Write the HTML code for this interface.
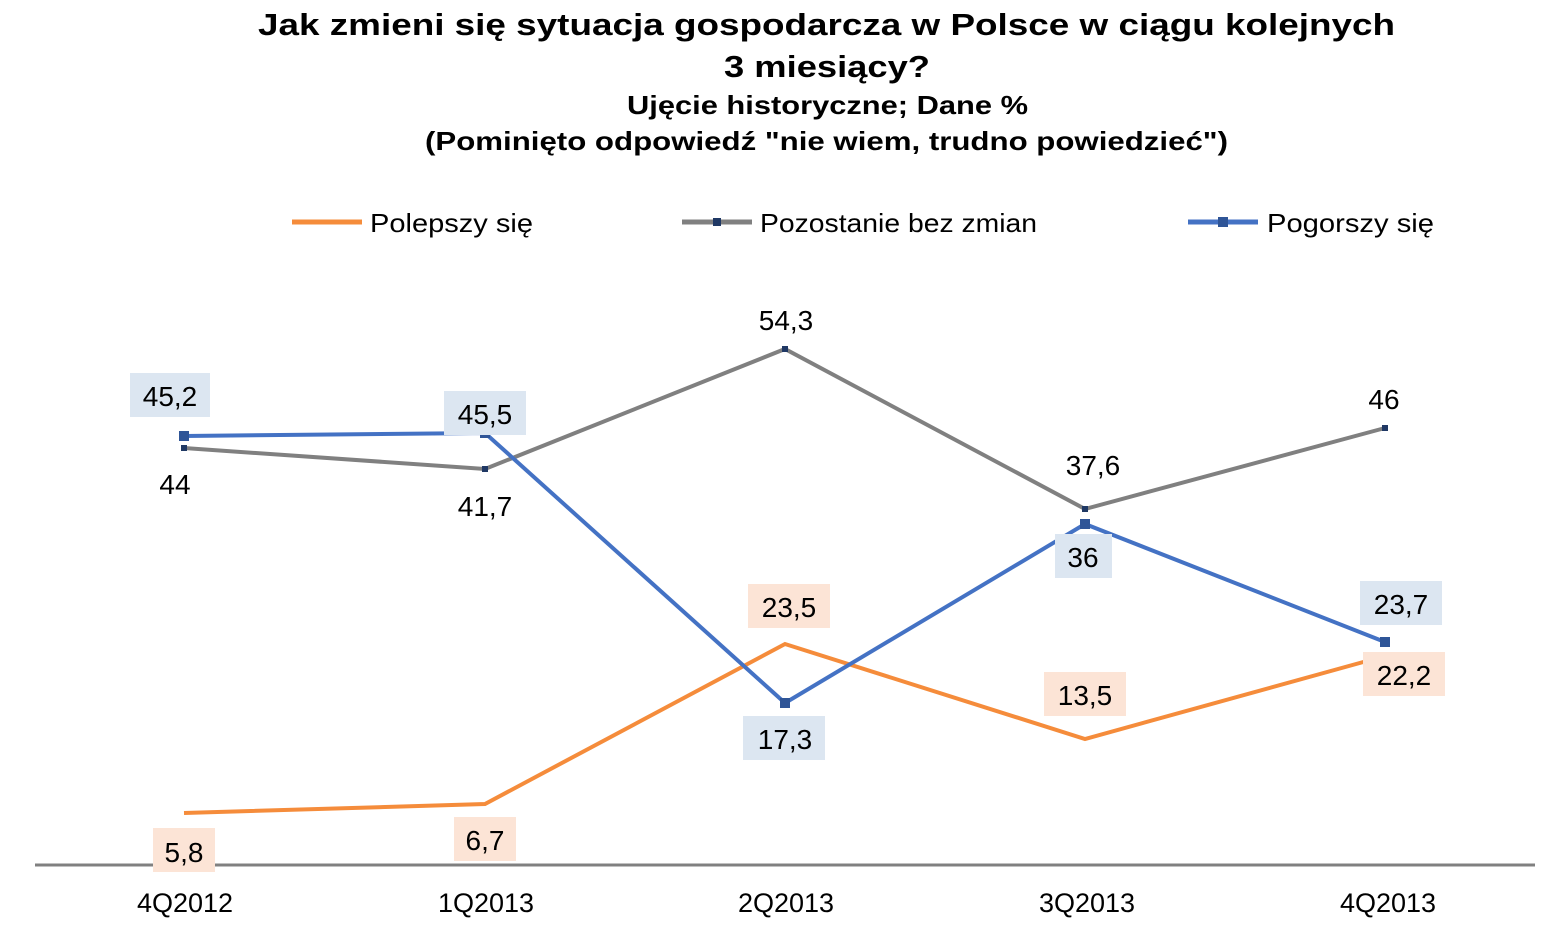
<!DOCTYPE html>
<html><head><meta charset="utf-8"><style>
body{margin:0;background:#fff;}
svg text{font-family:"Liberation Sans",sans-serif;}
</style></head><body>
<svg width="1558" height="936" xmlns="http://www.w3.org/2000/svg">
<g font-weight="bold" fill="#000">
<text x="258" y="35" font-size="31" textLength="1137" lengthAdjust="spacingAndGlyphs">Jak zmieni się sytuacja gospodarcza  w Polsce w ciągu kolejnych</text>
<text x="724" y="77" font-size="31" textLength="206" lengthAdjust="spacingAndGlyphs">3 miesiący?</text>
<text x="627" y="114" font-size="26" textLength="401" lengthAdjust="spacingAndGlyphs">Ujęcie historyczne; Dane %</text>
<text x="425" y="150" font-size="26" textLength="803" lengthAdjust="spacingAndGlyphs">(Pominięto odpowiedź  "nie wiem, trudno powiedzieć")</text>
</g>
<!-- legend -->
<g font-size="26" fill="#000">
<line x1="292" y1="222" x2="362" y2="222" stroke="#F58C3B" stroke-width="5"/>
<text x="370" y="232" textLength="163" lengthAdjust="spacingAndGlyphs">Polepszy się</text>
<line x1="682" y1="222" x2="752" y2="222" stroke="#808080" stroke-width="5"/>
<rect x="713" y="218" width="8" height="8" fill="#1F3864"/>
<text x="760" y="232" textLength="277" lengthAdjust="spacingAndGlyphs">Pozostanie bez zmian</text>
<line x1="1188" y1="222" x2="1258" y2="222" stroke="#4472C4" stroke-width="5"/>
<rect x="1218" y="217" width="10" height="10" fill="#2F5597"/>
<text x="1267" y="232" textLength="167" lengthAdjust="spacingAndGlyphs">Pogorszy się</text>
</g>
<line x1="35" y1="865" x2="1535" y2="865" stroke="#808080" stroke-width="3"/>
<g font-size="27" text-anchor="middle" fill="#000">
<text x="185" y="912">4Q2012</text><text x="486" y="912">1Q2013</text><text x="786" y="912">2Q2013</text><text x="1087" y="912">3Q2013</text><text x="1388" y="912">4Q2013</text>
</g>
<polyline points="184,813 485,804 785,644 1085,739 1385,656" fill="none" stroke="#F58C3B" stroke-width="4"/>
<polyline points="184,448 485,469 785,349 1085,509 1385,428" fill="none" stroke="#808080" stroke-width="4"/>
<polyline points="184,436 485,433 785,703 1085,524 1385,642" fill="none" stroke="#4472C4" stroke-width="4"/>
<g fill="#2F5597">
<rect x="179" y="431" width="10" height="10"/><rect x="480" y="428" width="10" height="10"/><rect x="780" y="698" width="10" height="10"/><rect x="1080" y="519" width="10" height="10"/><rect x="1380" y="637" width="10" height="10"/>
</g>
<g fill="#1F3864">
<rect x="181" y="445" width="6" height="6"/><rect x="482" y="466" width="6" height="6"/><rect x="782" y="346" width="6" height="6"/><rect x="1082" y="506" width="6" height="6"/><rect x="1382" y="425" width="6" height="6"/>
</g>
<g fill="#DCE6F1">
<rect x="130" y="373" width="80" height="44"/><rect x="444" y="391" width="82" height="44"/><rect x="743" y="716" width="82" height="44"/><rect x="1055" y="534" width="57" height="44"/><rect x="1360" y="581" width="82" height="44"/>
</g>
<g fill="#FCE4D6">
<rect x="153" y="828" width="62" height="44"/><rect x="454" y="817" width="62" height="44"/><rect x="748" y="584" width="82" height="44"/><rect x="1044" y="672" width="82" height="44"/><rect x="1363" y="652" width="82" height="44"/>
</g>
<g font-size="28" text-anchor="middle" fill="#000">
<text x="170" y="406">45,2</text><text x="485" y="424">45,5</text><text x="785" y="749">17,3</text><text x="1083" y="567">36</text><text x="1401" y="614">23,7</text>
<text x="175" y="494">44</text><text x="485" y="516">41,7</text><text x="786" y="330">54,3</text><text x="1093" y="475">37,6</text><text x="1384" y="409">46</text>
<text x="184" y="862">5,8</text><text x="485" y="850">6,7</text><text x="789" y="617">23,5</text><text x="1085" y="705">13,5</text><text x="1404" y="685">22,2</text>
</g>
</svg>
</body></html>
